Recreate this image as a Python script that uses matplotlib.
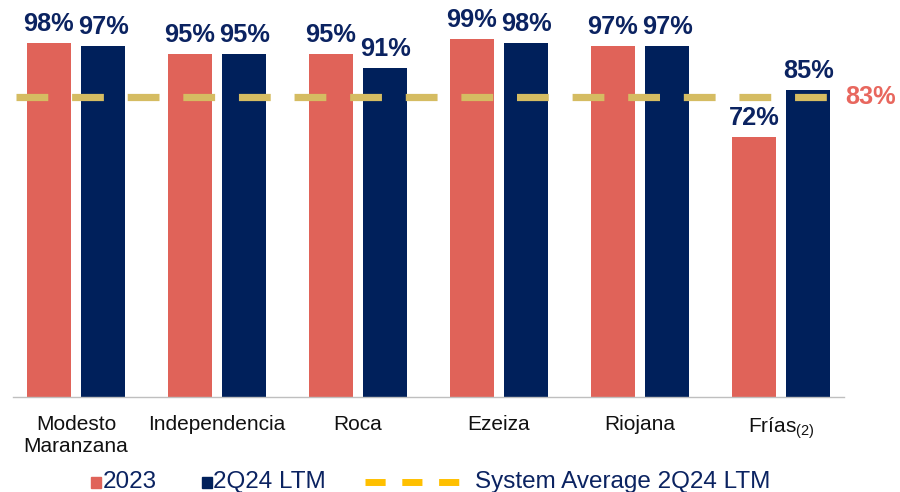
import numpy as np
import matplotlib.pyplot as plt
from matplotlib.patches import Rectangle
from matplotlib.lines import Line2D

plt.rcParams['font.family'] = ['Liberation Sans', 'DejaVu Sans']
plt.rcParams['mathtext.fontset'] = 'custom'
plt.rcParams['mathtext.rm'] = 'Liberation Sans'
plt.rcParams['mathtext.it'] = 'Liberation Sans'

# availability by plant
plants = ["Modesto\nMaranzana", "Independencia", "Roca", "Ezeiza", "Riojana", r"Frías$_{\mathrm{(2)}}$"]
avail_2023 = [98, 95, 95, 99, 97, 72]
avail_2q24 = [97, 95, 91, 98, 97, 85]
system_avg = 83

RED = "#E06359"
NAVY = "#00205B"
GOLD = "#D5BC62"
YELLOW = "#FFC000"
LABEL = "#0B2361"

fig = plt.figure(figsize=(9, 4.92), dpi=100)
ax = fig.add_axes([12.5 / 900, 95 / 492, 832 / 900, 108 * 3.615 / 492])

x = np.arange(len(plants))
width = 0.31
off = 0.193

b1 = ax.bar(x - off, avail_2023, width, color=RED)
b2 = ax.bar(x + off, avail_2q24, width, color=NAVY)

for bars, vals in ((b1, avail_2023), (b2, avail_2q24)):
    for bar, v in zip(bars, vals):
        ax.annotate(f"{v}%", (bar.get_x() + bar.get_width() / 2, v),
                    xytext=(0, 5), textcoords="offset points",
                    ha="center", va="bottom", fontsize=18.3,
                    fontweight="bold", color=LABEL)

# system average line on top of the bars
ax.hlines(system_avg, -0.425, 5.36, colors=GOLD, linewidth=5.2,
          linestyles=(0, (4.4, 3.3)), zorder=5)
ax.text(5.455, system_avg, f"{system_avg}%", ha="left", va="center",
        fontsize=18.3, fontweight="bold", color="#E8675E", clip_on=False)

ax.set_xlim(-0.45, 5.45)
ax.set_ylim(0, 108)
ax.set_xticks(x)
ax.set_xticklabels(plants, fontsize=15, color="#111111", linespacing=1.2)
ax.tick_params(axis="x", length=0, pad=13)
ax.set_yticks([])
for side in ("top", "right", "left"):
    ax.spines[side].set_visible(False)
ax.spines["bottom"].set_color("#BFBFBF")
ax.spines["bottom"].set_linewidth(1)

# legend along the bottom edge
ly = 10 / 492
fig.patches.append(Rectangle((91 / 900, ly - 5.5 / 492), 10 / 900, 11 / 492,
                             transform=fig.transFigure, color=RED))
fig.text(103 / 900, ly, "2023", fontsize=17.5, color=LABEL, va="center")
fig.patches.append(Rectangle((202 / 900, ly - 5.5 / 492), 10 / 900, 11 / 492,
                             transform=fig.transFigure, color=NAVY))
fig.text(213 / 900, ly, "2Q24 LTM", fontsize=17.5, color=LABEL, va="center")
fig.lines.append(Line2D([365 / 900, 460 / 900], [ly, ly], transform=fig.transFigure,
                        color=YELLOW, linewidth=5, linestyle=(0, (2.9, 2.4))))
fig.text(475 / 900, ly, "System Average 2Q24 LTM", fontsize=17.5, color=LABEL, va="center")

fig.savefig("out.png", dpi=100)
